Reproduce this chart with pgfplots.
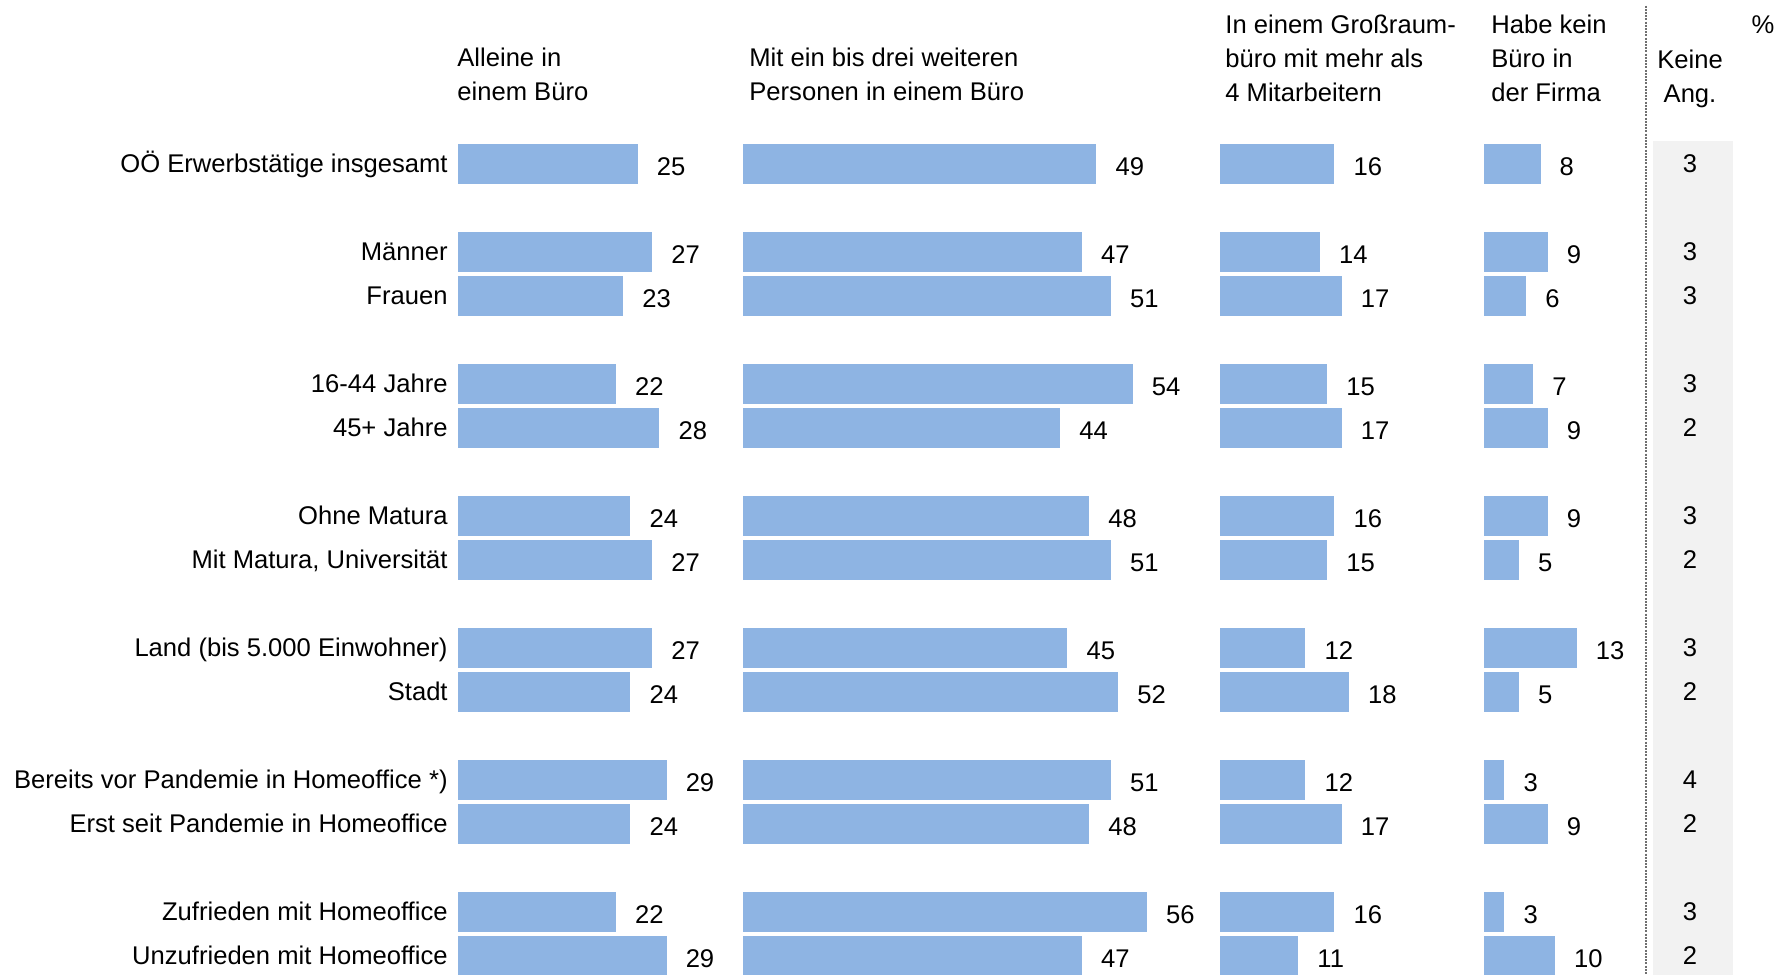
\documentclass[border=0pt]{standalone}
\usepackage{pgfplots}
\pgfplotsset{compat=1.18}
\usepackage{fontspec}
\setmainfont{Liberation Sans}
\definecolor{barblue}{HTML}{8EB4E3}
\definecolor{colgray}{HTML}{F2F2F2}
\definecolor{lineg}{HTML}{707070}
\newcommand\lbl{\fontsize{12.8}{17}\selectfont}
\pgfplotsset{
  /pgf/number format/assume math mode=true,
  base/.style={hide axis, y=22pt, y dir=reverse, ymin=-3.727, ymax=18.43, anchor=north west},
  barcol/.style={base, xbar, xmin=0, xmax=60, x=3.62pt, bar width=20.8pt, clip=true,
    nodes near coords,
    every node near coord/.append style={anchor=west, inner sep=0pt, xshift=9pt, yshift=-1.2pt, font=\lbl, text=black}},
  barplot/.style={fill=barblue, draw=white, line width=0.6pt}
}
\tikzset{cat/.style={anchor=base east, inner sep=0pt}}
\begin{document}
\begin{tikzpicture}[font=\lbl]
% frame axis: x in reference pixels, y in rows
\begin{axis}[base, at={(0pt,0pt)}, x=0.5pt, xmin=0, xmax=1785, clip=false]
  \path (axis cs:0,-3.727) rectangle (axis cs:1785,18.43);
  \fill[colgray] (axis cs:1653,-0.517) rectangle (axis cs:1733,18.43);
  \draw[lineg, line width=1.3pt, dash pattern=on 1pt off 0.6pt] (axis cs:1646,-3.6) -- (axis cs:1646,18.43);
  % headers
  \node[anchor=west, align=left, inner sep=0pt] at (axis cs:457,-2.043) {Alleine in\\einem Büro};
  \node[anchor=west, align=left, inner sep=0pt] at (axis cs:749,-2.043) {Mit ein bis drei weiteren\\Personen in einem Büro};
  \node[anchor=west, align=left, inner sep=0pt] at (axis cs:1225,-2.405) {In einem Großraum-\\büro mit mehr als\\4 Mitarbeitern};
  \node[anchor=west, align=left, inner sep=0pt] at (axis cs:1491,-2.405) {Habe kein\\Büro in\\der Firma};
  \node[anchor=center, align=center, inner sep=0pt] at (axis cs:1690,-1.94) {Keine\\Ang.};
  \node[anchor=center, inner sep=0pt] at (axis cs:1763,-3.155) {\%};
  % category labels
  \node[cat] at (axis cs:448,0.195) {OÖ Erwerbstätige insgesamt};
  \node[cat] at (axis cs:448,2.195) {Männer};
  \node[cat] at (axis cs:448,3.195) {Frauen};
  \node[cat] at (axis cs:448,5.195) {16-44 Jahre};
  \node[cat] at (axis cs:448,6.195) {45+ Jahre};
  \node[cat] at (axis cs:448,8.195) {Ohne Matura};
  \node[cat] at (axis cs:448,9.195) {Mit Matura, Universität};
  \node[cat] at (axis cs:448,11.195) {Land (bis 5.000 Einwohner)};
  \node[cat] at (axis cs:448,12.195) {Stadt};
  \node[cat] at (axis cs:448,14.195) {Bereits vor Pandemie in Homeoffice *)};
  \node[cat] at (axis cs:448,15.195) {Erst seit Pandemie in Homeoffice};
  \node[cat] at (axis cs:448,17.195) {Zufrieden mit Homeoffice};
  \node[cat] at (axis cs:448,18.195) {Unzufrieden mit Homeoffice};
  % Keine Angabe
  \addplot[draw=none, mark=none, nodes near coords, point meta=explicit,
    every node near coord/.append style={anchor=center, inner sep=0pt, font=\lbl, text=black}]
    coordinates {(1690,0)[3] (1690,2)[3] (1690,3)[3] (1690,5)[3] (1690,6)[2] (1690,8)[3] (1690,9)[2]
                 (1690,11)[3] (1690,12)[2] (1690,14)[4] (1690,15)[2] (1690,17)[3] (1690,18)[2]};
\end{axis}
% Alleine in einem Buero
\begin{axis}[barcol, at={(228.6pt,0pt)}]
  \addplot[barplot] coordinates {(25,0) (27,2) (23,3) (22,5) (28,6) (24,8) (27,9) (27,11) (24,12) (29,14) (24,15) (22,17) (29,18)};
\end{axis}
% Mit ein bis drei weiteren Personen
\begin{axis}[barcol, at={(371.1pt,0pt)}]
  \addplot[barplot] coordinates {(49,0) (47,2) (51,3) (54,5) (44,6) (48,8) (51,9) (45,11) (52,12) (51,14) (48,15) (56,17) (47,18)};
\end{axis}
% Grossraumbuero
\begin{axis}[barcol, at={(609.6pt,0pt)}]
  \addplot[barplot] coordinates {(16,0) (14,2) (17,3) (15,5) (17,6) (16,8) (15,9) (12,11) (18,12) (12,14) (17,15) (16,17) (11,18)};
\end{axis}
% Kein Buero
\begin{axis}[barcol, at={(741.6pt,0pt)}]
  \addplot[barplot] coordinates {(8,0) (9,2) (6,3) (7,5) (9,6) (9,8) (5,9) (13,11) (5,12) (3,14) (9,15) (3,17) (10,18)};
\end{axis}
\end{tikzpicture}
\end{document}
